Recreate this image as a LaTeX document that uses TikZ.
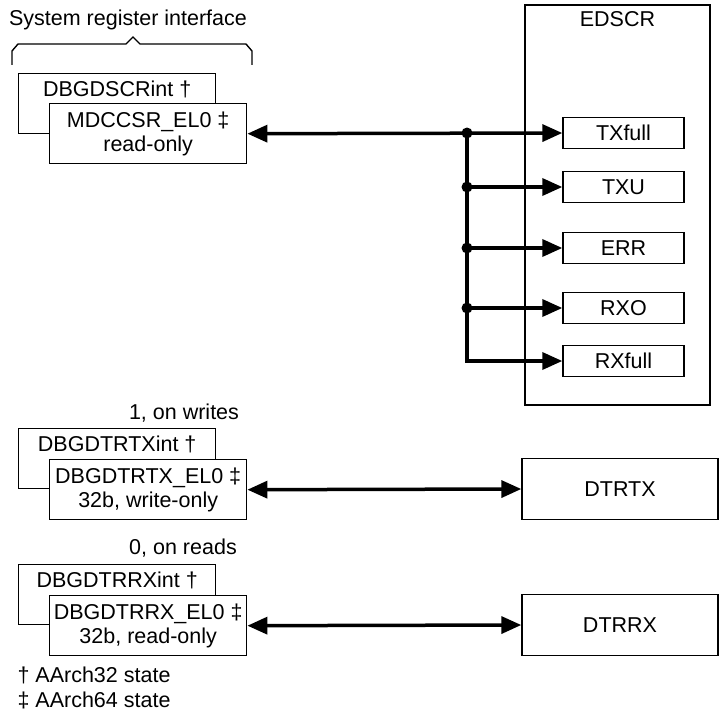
\documentclass[tikz,border=0pt]{standalone}
\usepackage{fontspec}
\setmainfont{Liberation Sans}
\usetikzlibrary{arrows.meta}

\tikzset{
  regback/.style={draw, line width=1.4pt, anchor=north west, minimum width=197pt,
    text height=18.5pt, text depth=33.5pt, inner ysep=4pt},
  regfront/.style={draw, line width=1.4pt, fill=white, anchor=north west,
    minimum width=197pt, minimum height=60pt, align=center},
  field/.style={draw, line width=1.4pt, minimum width=121pt, minimum height=31pt},
  block/.style={draw, line width=1.4pt, minimum width=196pt, minimum height=61pt},
  bus/.style={line width=3.5pt}
}

\begin{document}
\begin{tikzpicture}[x=1pt, y=-1pt, font=\fontsize{21.5}{24}\selectfont,
  >={Triangle[length=20pt,width=17pt]}]
\useasboundingbox (0,0) rectangle (726,717);

% System register interface
\node (sysreg) at (128,20) {System register interface};
\draw[line width=1.4pt] (12,65) -- (12,51) -- (18,44) -- (126,44) -- (133,37)
  -- (140,44) -- (246,44) -- (252,51) -- (252,65);

\node[regback] (dscrint) at (18,73) {DBGDSCRint †};
\node[regfront] (mdccsr) at (49,103) {MDCCSR\_EL0 ‡\\read-only};

\node (wrnote) at (184,413) {1, on writes};
\node[regback] (dtrtxint) at (18,428) {DBGDTRTXint †};
\node[regfront] (dtrtxel) at (49,459) {DBGDTRTX\_EL0 ‡\\32b, write-only};

\node (rdnote) at (183,548) {0, on reads};
\node[regback] (dtrrxint) at (18,564) {DBGDTRRXint †};
\node[regfront] (dtrrxel) at (49,595) {DBGDTRRX\_EL0 ‡\\32b, read-only};

% Footnotes
\node[anchor=west] (fn32) at (14,675) {† AArch32 state};
\node[anchor=west] (fn64) at (14,700) {‡ AArch64 state};

% External debug side
\node[draw, line width=1.4pt, minimum width=185pt, minimum height=400pt,
  label={[anchor=north, inner sep=0pt, yshift=-7pt]north:EDSCR}] (edscr) at (617.5,205) {};

\foreach \name/\txt/\y in {txfull/TXfull/133, txu/TXU/187, err/ERR/248, rxo/RXO/308, rxfull/RXfull/361}
  \node[field] (\name) at (623.5,\y) {\txt};

\node[block] (dtrtx) at (620,489) {DTRTX};
\node[block] (dtrrx) at (620,625) {DTRRX};

% Buses
\coordinate (spine) at (467,0);
\draw[bus,<->] (mdccsr.east) -- (txfull.west);
\draw[bus,->] (spine |- txfull.west) |- (rxfull.west);
\foreach \name in {txu, err, rxo}
  \draw[bus,->] (spine |- \name.west) -- (\name.west);
\foreach \name in {txfull, txu, err, rxo}
  \fill (spine |- \name.west) circle[radius=5.5pt];

\draw[bus,<->] (dtrtxel.east) -- (dtrtx.west);
\draw[bus,<->] (dtrrxel.east) -- (dtrrx.west);
\end{tikzpicture}
\end{document}
